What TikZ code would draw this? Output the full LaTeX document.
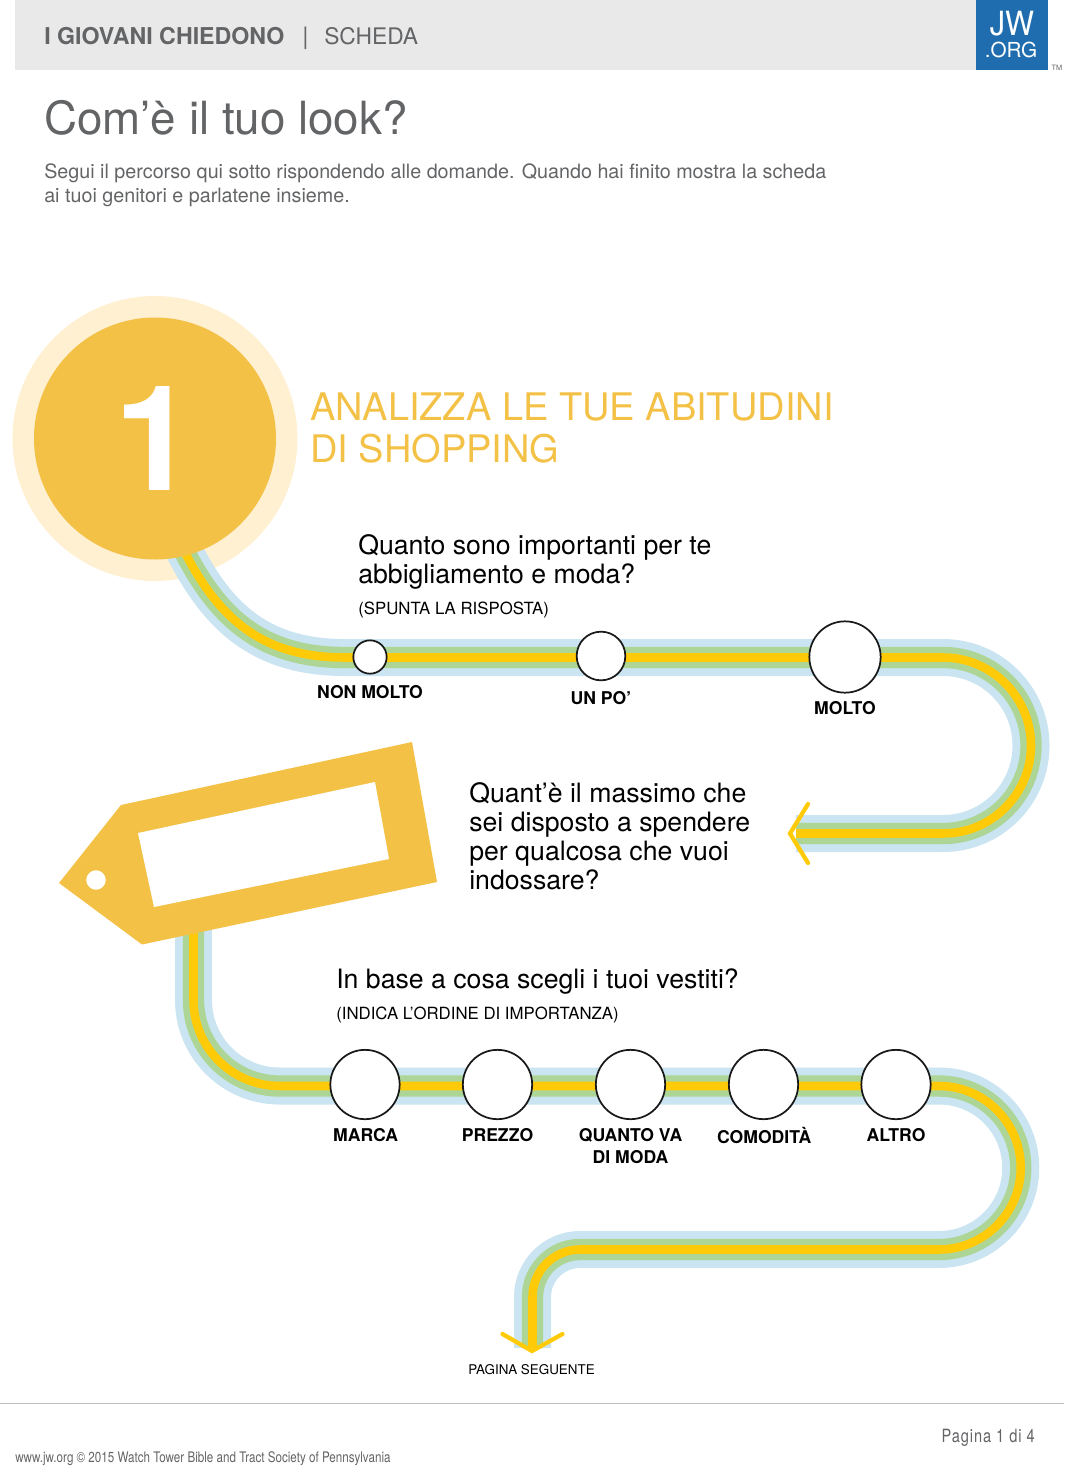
\documentclass[tikz,border=0pt]{standalone}
\usepackage{fontspec}
\setmainfont{TeX Gyre Heros}
\usetikzlibrary{arrows}
\definecolor{inkgray}{HTML}{636466}
\definecolor{barbg}{HTML}{E9E9EA}
\definecolor{jwblue}{HTML}{1F6DAE}
\definecolor{sunny}{HTML}{F4C147}
\definecolor{pale}{HTML}{FFF0D2}
\definecolor{bandblue}{HTML}{CBE4F1}
\definecolor{bandgreen}{HTML}{ADD595}
\definecolor{bandyellow}{HTML}{FFCB08}
\newcommand{\ribbon}[1]{%
  \draw [line width=27.75pt,bandblue] #1;
  \draw [line width=16pt,bandgreen] #1;
  \draw [line width=6.4pt,bandyellow] #1;}
\begin{document}
\begin{tikzpicture}[x=0.75pt,y=-0.75pt,node distance=20pt]
  \tikzstyle{txt}=[inner sep=0pt,anchor=base west,align=left]
  \tikzstyle{question}=[txt,font=\fontsize{20pt}{21.8pt}\selectfont,text=black]
  \tikzstyle{hint}=[txt,font=\fontsize{12.6pt}{15pt}\selectfont,text=black]
  \tikzstyle{answer}=[inner sep=0pt,align=center,font=\fontsize{13.2pt}{16.6pt}\selectfont\bfseries,text=black]
  \tikzstyle{check}=[circle,draw=black!90,line width=1.3pt,fill=white,inner sep=0pt]
  \tikzstyle{chevron}=[line width=3.2pt,line cap=round,line join=miter,bandyellow]

  \useasboundingbox (0,0) rectangle (1064,1477);

  % header
  \fill [barbg] (15,0) rectangle (976,70.5);
  \fill [jwblue] (976,0) rectangle (1048,70.5);
  \node [txt,font=\fontsize{17.4pt}{18pt}\selectfont\bfseries,text=inkgray] (series) at (44,44.5) {I GIOVANI CHIEDONO};
  \node [txt,font=\fontsize{18pt}{18pt}\selectfont,text=inkgray] (sep) at (302,44.5) {|};
  \node [txt,font=\fontsize{17.1pt}{18pt}\selectfont,text=inkgray] (sheet) at (324,44.5) {SCHEDA};
  \node [inner sep=0pt,font=\fontsize{25pt}{25pt}\selectfont\addfontfeature{FakeStretch=0.92},text=white] (jw) at (1012,24) {JW};
  \node [inner sep=0pt,font=\fontsize{15.5pt}{16pt}\selectfont,text=white] (org) at (1011,50) {.ORG};
  \node [inner sep=0pt,font=\fontsize{5.5pt}{6pt}\selectfont,text=inkgray] (tm) at (1057,68) {TM};

  % title
  \node [txt,font=\fontsize{34.3pt}{36pt}\selectfont,text=inkgray] (title) at (44,134) {Com’è il tuo look?};
  \node [txt,font=\fontsize{14.8pt}{18pt}\selectfont,text=inkgray] (intro) at (44,202) {Segui il percorso qui sotto rispondendo alle domande. Quando hai finito mostra la scheda\\ai tuoi genitori e parlatene insieme.};

  % badge halo lies under the road
  \node [circle,fill=pale,minimum size=213.75pt,inner sep=0pt] (halo) at (155,438.5) {};

  % first road
  \ribbon{(172,525) .. controls (210,612) and (255,657.5) .. (345,657.5) -- (943,657.5) arc (-90:90:88) -- (796,833.5)}
  \coordinate (tipa) at (790,833.5);
  \coordinate (upa) at (808,804);
  \coordinate (downa) at (808,863);
  \draw [chevron] (upa) -- (tipa) -- (downa);

  % second road
  \ribbon{(193.5,925) -- (193.5,1000) arc (180:90:86) -- (939,1086) arc (-90:90:81.75) -- (580,1249.5) arc (-90:-180:47.5) -- (532.5,1348)}
  \coordinate (tipb) at (532,1351);
  \coordinate (leftb) at (502.5,1334);
  \coordinate (rightb) at (562.5,1334);
  \draw [chevron] (leftb) -- (tipb) -- (rightb);

  % badge
  \node [circle,fill=sunny,minimum size=181.5pt,inner sep=0pt] (badge) at (155,438.5) {};
  \node [inner sep=0pt,font=\fontsize{110pt}{110pt}\selectfont\bfseries,text=white] (one) at (155,438.5) {1};
  \node [txt,font=\fontsize{28.5pt}{31pt}\selectfont,text=sunny] (head) at (310,462) {ANALIZZA LE TUE ABITUDINI\\DI SHOPPING};

  % price tag
  \fill [sunny] (412,742) -- (437,882) -- (142,944.5) -- (59,883) -- (121,805) -- cycle;
  \fill [white] (138,833) -- (375,782) -- (389,859) -- (154,907) -- cycle;
  \node [circle,fill=white,minimum size=14.6pt,inner sep=0pt] (hole) at (96,880) {};

  % question one
  \node [question] (q1) at (358,583.5) {Quanto sono importanti per te\\abbigliamento e moda?};
  \node [hint] (h1) at (358,614.5) {(SPUNTA LA RISPOSTA)};
  \node [check,minimum size=25pt] (c1) at (370,657) {};
  \node [check,minimum size=36.5pt] (c2) at (601,656) {};
  \node [check,minimum size=53.5pt] (c3) at (845,657) {};
  \node [answer] (a1) [below of=c1,node distance=26pt] {NON MOLTO};
  \node [answer] (a2) [below of=c2,node distance=31.5pt] {UN PO’};
  \node [answer] (a3) [below of=c3,node distance=38pt] {MOLTO};

  % question two
  \node [question] (q2) at (469,889.5) {Quant’è il massimo che\\sei disposto a spendere\\per qualcosa che vuoi\\indossare?};

  % question three
  \node [question] (q3) at (336,988) {In base a cosa scegli i tuoi vestiti?};
  \node [hint] (h3) at (336,1019.5) {(INDICA L’ORDINE DI IMPORTANZA)};
  \node [check,minimum size=52pt] (d1) at (365,1084.5) {};
  \node [check,minimum size=52pt] (d2) at (497.5,1084.5) {};
  \node [check,minimum size=52pt] (d3) at (630.5,1084.5) {};
  \node [check,minimum size=52pt] (d4) at (763.5,1084.5) {};
  \node [check,minimum size=52pt] (d5) at (896,1084.5) {};
  \node [answer,xshift=.5pt] (b1) [below of=d1,node distance=38pt] {MARCA};
  \node [answer] (b2) [below of=d2,node distance=38pt] {PREZZO};
  \node [answer] (b3) [below of=d3,node distance=46.5pt] {QUANTO VA\\DI MODA};
  \node [answer,xshift=.5pt] (b4) [below of=d4,node distance=38pt] {COMODITÀ};
  \node [answer] (b5) [below of=d5,node distance=38pt] {ALTRO};

  \node [inner sep=0pt,font=\fontsize{10.05pt}{12pt}\selectfont,text=black] (next) at (531.5,1369.5) {PAGINA SEGUENTE};

  % footer
  \draw [black!25,line width=0.6pt] (0,1403) -- (1064,1403);
  \node [inner sep=0pt,anchor=base east,font=\fontsize{13.7pt}{14pt}\selectfont\addfontfeature{FakeStretch=0.8,LetterSpace=5},text=inkgray] (page) at (1035,1442) {Pagina 1 di 4};
  \node [txt,font=\fontsize{10.9pt}{12pt}\selectfont\addfontfeature{FakeStretch=0.8},text=inkgray] (foot) at (15,1462) {www.jw.org © 2015 Watch Tower Bible and Tract Society of Pennsylvania};
\end{tikzpicture}
\end{document}
